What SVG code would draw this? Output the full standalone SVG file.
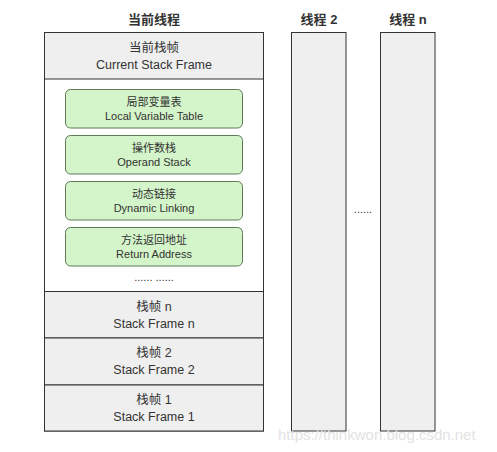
<svg xmlns="http://www.w3.org/2000/svg" width="497" height="452" viewBox="0 0 497 452">
<style>
text{font-family:"Liberation Sans","Noto Sans CJK SC",sans-serif;fill:#333;text-anchor:middle}
.title{font-size:13px;font-weight:bold}
.frame{fill:#efefef;stroke:#333;stroke-width:1}
.lbl{font-size:12.5px}
.g{fill:#d3f5c9;stroke:#5f7a58;stroke-width:1}
.gl{font-size:11px}
.wm{fill:#e3e3e3;font-size:15px;text-anchor:start}
</style>
<rect width="497" height="452" fill="#fff"/>
<g id="titles">
<text class="title" x="154" y="24">当前线程</text>
<text class="title" x="319" y="24">线程 2</text>
<text class="title" x="408" y="24">线程 n</text>
</g>
<g id="current-thread">
<rect x="44.5" y="32.5" width="219" height="398.5" fill="#fff" stroke="#333"/>
</g>
<g id="current-frame">
<rect class="frame" x="44.5" y="32.5" width="219" height="46.5"/>
<text class="lbl" x="154" y="52">当前栈帧</text>
<text class="lbl" x="154" y="69">Current Stack Frame</text>
</g>
<g id="local-variable-table">
<rect class="g" x="65.5" y="89.5" width="177" height="38.5" rx="5"/>
<text class="gl" x="154" y="106">局部变量表</text>
<text class="gl" x="154" y="120">Local Variable Table</text>
</g>
<g id="operand-stack">
<rect class="g" x="65.5" y="135.5" width="177" height="38.5" rx="5"/>
<text class="gl" x="154" y="152">操作数栈</text>
<text class="gl" x="154" y="166">Operand Stack</text>
</g>
<g id="dynamic-linking">
<rect class="g" x="65.5" y="181.5" width="177" height="38.5" rx="5"/>
<text class="gl" x="154" y="198">动态链接</text>
<text class="gl" x="154" y="212">Dynamic Linking</text>
</g>
<g id="return-address">
<rect class="g" x="65.5" y="227.5" width="177" height="38.5" rx="5"/>
<text class="gl" x="154" y="244">方法返回地址</text>
<text class="gl" x="154" y="258">Return Address</text>
</g>
<g id="ellipsis-inner">
<text class="gl" x="154" y="281">...... ......</text>
</g>
<g id="frame-n">
<rect class="frame" x="44.5" y="291.5" width="219" height="46.5"/>
<text class="lbl" x="154" y="311">栈帧 n</text>
<text class="lbl" x="154" y="328">Stack Frame n</text>
</g>
<g id="frame-2">
<rect class="frame" x="44.5" y="338" width="219" height="47"/>
<text class="lbl" x="154" y="357">栈帧 2</text>
<text class="lbl" x="154" y="374">Stack Frame 2</text>
</g>
<g id="frame-1">
<rect class="frame" x="44.5" y="385" width="219" height="46"/>
<text class="lbl" x="154" y="404">栈帧 1</text>
<text class="lbl" x="154" y="421">Stack Frame 1</text>
</g>
<g id="thread-2">
<rect class="frame" x="291.5" y="32.5" width="54.5" height="398.5"/>
</g>
<g id="thread-n">
<rect class="frame" x="380.5" y="32.5" width="54.5" height="398.5"/>
</g>
<g id="ellipsis-threads">
<text class="gl" x="363" y="213">......</text>
</g>
<g id="connectors"></g>
<text class="wm" x="278" y="440">https://thinkwon.blog.csdn.net</text>
</svg>
